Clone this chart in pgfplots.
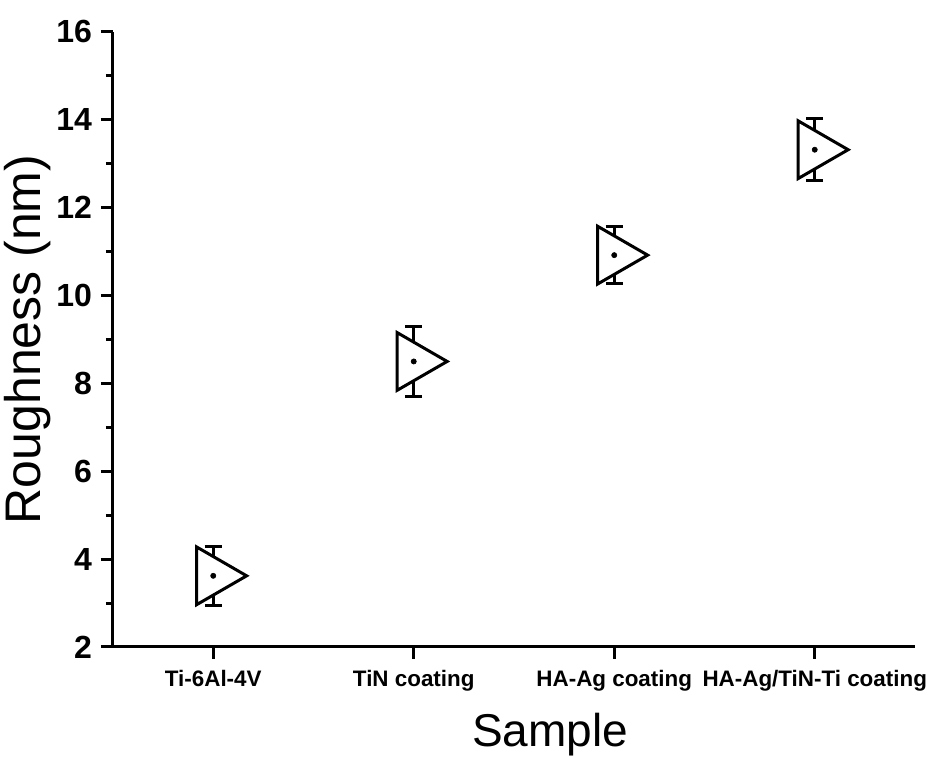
\documentclass[border=0pt]{standalone}
\usepackage{pgfplots}
\pgfplotsset{compat=1.18}
\usepackage{fontspec}
\setmainfont{Liberation Sans}
\begin{document}
\begin{tikzpicture}
\begin{axis}[
  set layers,
  scale only axis,
  width=401pt, height=307.5pt,
  xmin=0.5, xmax=4.5, ymin=2, ymax=16,
  axis lines=left,
  axis line style={-, line width=1.5pt},
  xtick={1,2,3,4},
  xticklabels={Ti-6Al-4V, TiN coating, HA-Ag coating, HA-Ag/TiN-Ti coating},
  ytick={2,4,...,16},
  minor y tick num=1,
  tick align=outside,
  major tick length=6pt,
  minor tick length=3.5pt,
  tick style={line width=1.5pt, black},
  /pgf/number format/assume math mode=true,
  yticklabel style={font=\fontsize{16}{18}\selectfont\bfseries, xshift=-1pt},
  xticklabel style={font=\fontsize{11.2}{13}\selectfont\bfseries, yshift=-2pt},
  xlabel={Sample},
  ylabel={Roughness (nm)},
  xlabel style={font=\fontsize{23}{26}\selectfont, xshift=18pt, yshift=-4pt},
  ylabel style={font=\fontsize{25}{28}\selectfont, yshift=-4pt},
  clip=false,
]
\addplot[only marks, mark=none, black, forget plot,
  error bars/.cd, y dir=both, y explicit,
  error bar style={line width=1.5pt, black},
  error mark options={rotate=90, mark size=4.25pt, line width=1.5pt, black}]
  table[x=x, y=y, y error=e] {
x y e
1 3.62 0.67
2 8.50 0.80
3 10.92 0.65
4 13.32 0.70
};
\addplot[on layer=axis foreground, only marks, black, mark=triangle*, mark size=16.7pt,
  mark options={rotate=-90, draw=black, fill=white, line width=1.5pt}]
  table[x=x, y=y] {
x y
1 3.62
2 8.50
3 10.92
4 13.32
};
\addplot[on layer=axis foreground, only marks, black, mark=*, mark size=1.3pt,
  mark options={line width=0.3pt, draw=black, fill=black}]
  table[x=x, y=y] {
x y
1 3.62
2 8.50
3 10.92
4 13.32
};
\end{axis}
\pgfresetboundingbox
\path ([shift={(-56.5pt,-58pt)}]current axis.south west) rectangle ++(463.5pt,381.5pt);
\end{tikzpicture}
\end{document}
